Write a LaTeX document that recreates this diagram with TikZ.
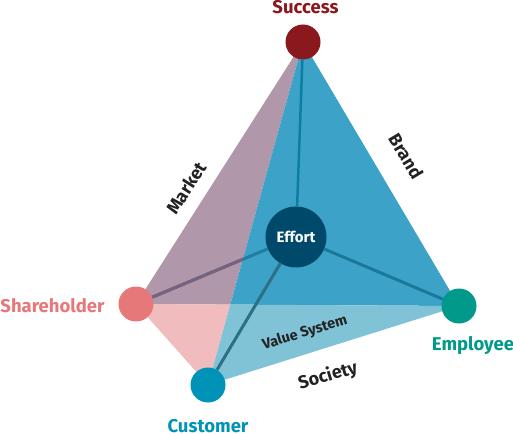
\documentclass[tikz,border=0pt]{standalone}
\usepackage{fontspec}
\setmainfont{Fira Sans}
\usetikzlibrary{backgrounds}

\definecolor{successred}{HTML}{8B181C}
\definecolor{shareholderred}{HTML}{E67879}
\definecolor{employeegreen}{HTML}{00998A}
\definecolor{customerblue}{HTML}{0093B7}
\definecolor{effortblue}{HTML}{00496B}
\definecolor{marketfill}{HTML}{B098AA}
\definecolor{brandfill}{HTML}{3DA2C7}
\definecolor{basefill}{HTML}{F1BCBD}
\definecolor{valuefill}{HTML}{80C3D6}
\definecolor{labelgray}{HTML}{222222}

\tikzset{
  vertex/.style={circle, minimum size=35pt, inner sep=0pt},
  spoke/.style={line width=3pt},
  corner/.style={font=\bfseries\fontsize{18.5}{22}\selectfont, inner sep=0pt, anchor=base},
  edgetext/.style={font=\bfseries\fontsize{18}{22}\selectfont, text=labelgray, inner sep=0pt}
}

\begin{document}
\begin{tikzpicture}[x=1pt,y=-1pt]
 \useasboundingbox (0,0) rectangle (513,435);

 % corners of the pyramid
 \node [vertex, fill=successred] (success) at (303,42) {};
 \node [vertex, fill=shareholderred] (shareholder) at (136,304) {};
 \node [vertex, fill=employeegreen] (employee) at (459,306) {};
 \node [vertex, fill=customerblue] (customer) at (208,385) {};
 \node [circle, minimum size=61pt, inner sep=0pt, fill=effortblue, text=white,
        font=\bfseries\fontsize{15}{18}\selectfont] (effort) at (296,237) {Effort};

 \coordinate (front) at (intersection of success.center--customer.center and shareholder.center--employee.center);

 % faces
 \begin{pgfonlayer}{background}
  \fill [marketfill] (success.center) -- (shareholder.center) -- (front) -- cycle;
  \fill [brandfill] (success.center) -- (front) -- (employee.center) -- cycle;
  \fill [basefill] (shareholder.center) -- (customer.center) -- (front) -- cycle;
  \fill [valuefill] (front) -- (customer.center) -- (employee.center) -- cycle;
 \end{pgfonlayer}

 % spokes from the centre
 \draw [spoke, line width=2.5pt, color={rgb,255:red,12;green,126;blue,163}] (effort) -- (success);
 \draw [spoke, color={rgb,255:red,26;green,120;blue,154}] (effort) -- (employee);
 \draw [spoke, color={rgb,255:red,45;green,111;blue,133}] (effort) -- (customer);
 \draw [spoke, color={rgb,255:red,31;green,125;blue,160}] (effort) -- (shareholder);
 \begin{scope}
  \clip (success.center) -- (shareholder.center) -- (front) -- cycle;
  \draw [spoke, color={rgb,255:red,124;green,97;blue,125}] (effort) -- (shareholder);
 \end{scope}

 % names
 \node [corner, text=successred] (successlabel) at (305.5,14) {Success};
 \node [corner, text=shareholderred] (shareholderlabel) at (52.5,312) {Shareholder};
 \node [corner, text=employeegreen] (employeelabel) at (473,350) {Employee};
 \node [corner, text=customerblue] (customerlabel) at (208,432) {Customer};

 \node [edgetext, rotate=57.5] (marketlabel) at (186,188) {Market};
 \node [edgetext, rotate=-59] (brandlabel) at (406,156) {Brand};
 \node [edgetext, rotate=16.7, font=\bfseries\fontsize{14.5}{17}\selectfont] (valuelabel) at (305,333) {Value System};
 \node [edgetext, rotate=16.7] (societylabel) at (328,376) {Society};
\end{tikzpicture}
\end{document}
